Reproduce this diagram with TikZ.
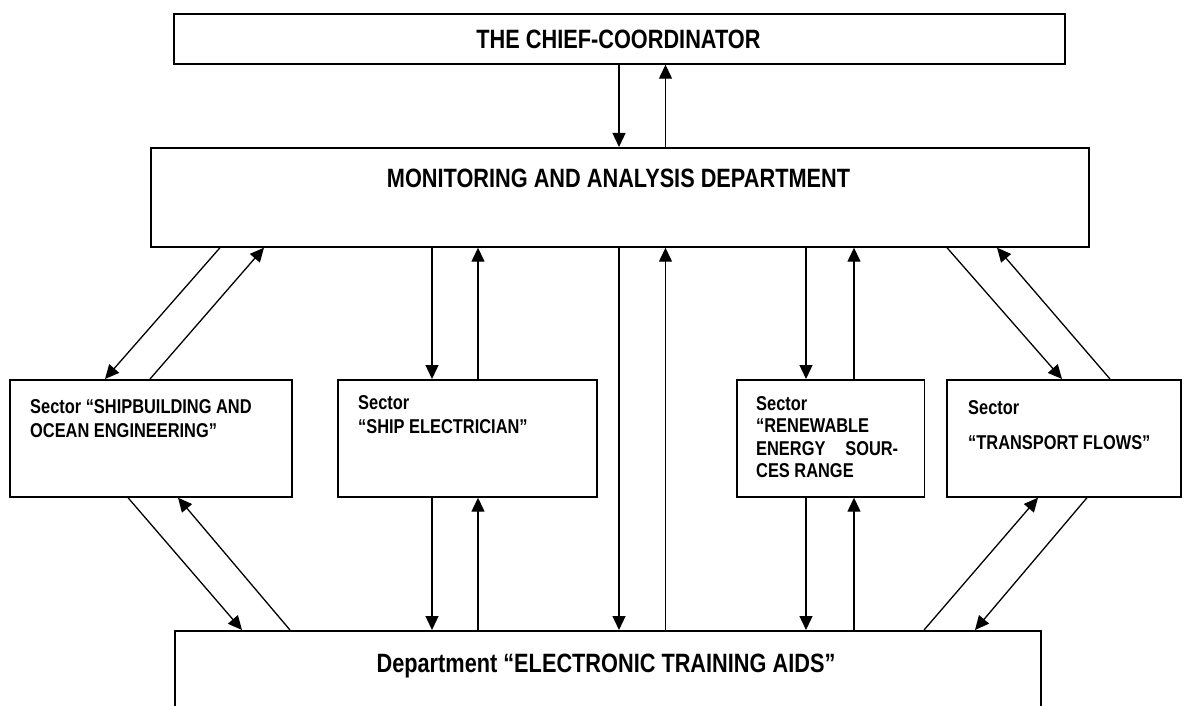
\documentclass[tikz,border=0pt]{standalone}
\usepackage{fontspec}
\setmainfont{Liberation Sans}[FakeStretch=0.82]
\usetikzlibrary{arrows.meta}
\tikzset{
  box/.style={draw, line width=1.7pt, inner sep=0pt, anchor=north west},
  arr/.style={line width=1.3pt, -{Triangle[length=14pt,width=13pt]}},
  title/.style={font=\bfseries\fontsize{26.5}{30}\selectfont, inner sep=0pt, anchor=base},
  stxt/.style={font=\bfseries\fontsize{20}{24}\selectfont, inner sep=0pt, anchor=base west}
}
\begin{document}
\begin{tikzpicture}[x=1pt,y=-1pt]
\useasboundingbox (0,0) rectangle (1184,706);
% boxes
\node[box, minimum width=891pt, minimum height=50pt] (chief) at (173,13) {};
\node[box, minimum width=938pt, minimum height=99pt] (mon) at (150,147) {};
\node[box, minimum width=282pt, minimum height=117pt] (s1) at (9,379) {};
\node[box, minimum width=259pt, minimum height=117pt] (s2) at (337,379) {};
\node[box, minimum width=187.5pt, minimum height=117pt] (s3) at (736,379) {};
\node[box, minimum width=234pt, minimum height=117pt] (s4) at (946,379) {};
\node[box, minimum width=866pt, minimum height=100pt] (dep) at (174,630) {};
% texts
\node[title] (tchief) at (618.5,49) {THE CHIEF-COORDINATOR};
\node[title] (tmon) at (618.5,187) {MONITORING AND ANALYSIS DEPARTMENT};
\node[title] (tdep) at (606,672) {Department “ELECTRONIC TRAINING AIDS”};
\node[stxt] (t1a) at (30,413) {Sector “SHIPBUILDING AND};
\node[stxt] (t1b) at (30,437) {OCEAN ENGINEERING”};
\node[stxt] (t2a) at (358,409) {Sector};
\node[stxt] (t2b) at (358,433) {“SHIP ELECTRICIAN”};
\node[stxt] (t3a) at (756,410) {Sector};
\node[stxt] (t3b) at (756,432) {“RENEWABLE};
\node[stxt] (t3c) at (756,455) {\makebox[142pt][l]{ENERGY\hfill SOUR-}};
\node[stxt] (t3d) at (756,477) {CES RANGE};
\node[stxt] (t4a) at (968,414) {Sector};
\node[stxt] (t4b) at (968,449) {“TRANSPORT FLOWS”};
% chief <-> monitoring
\draw[arr] (619,0 |- chief.south) -- (619,0 |- mon.north);
\draw[arr] (665.5,0 |- mon.north) -- (665.5,0 |- chief.south);
% monitoring <-> sectors
\draw[arr] (220,0 |- mon.south) -- (105,0 |- s1.north);
\draw[arr] (150,0 |- s1.north) -- (264,0 |- mon.south);
\draw[arr] (432,0 |- mon.south) -- (432,0 |- s2.north);
\draw[arr] (478,0 |- s2.north) -- (478,0 |- mon.south);
\draw[arr] (806,0 |- mon.south) -- (806,0 |- s3.north);
\draw[arr] (854,0 |- s3.north) -- (854,0 |- mon.south);
\draw[arr] (947,0 |- mon.south) -- (1062,0 |- s4.north);
\draw[arr] (1110,0 |- s4.north) -- (997,0 |- mon.south);
% monitoring <-> department
\draw[arr] (619,0 |- mon.south) -- (619,0 |- dep.north);
\draw[arr] (665.5,0 |- dep.north) -- (665.5,0 |- mon.south);
% sectors <-> department
\draw[arr] (128,0 |- s1.south) -- (242,0 |- dep.north);
\draw[arr] (290,0 |- dep.north) -- (178,0 |- s1.south);
\draw[arr] (432,0 |- s2.south) -- (432,0 |- dep.north);
\draw[arr] (478,0 |- dep.north) -- (478,0 |- s2.south);
\draw[arr] (806,0 |- s3.south) -- (806,0 |- dep.north);
\draw[arr] (854,0 |- dep.north) -- (854,0 |- s3.south);
\draw[arr] (924,0 |- dep.north) -- (1038,0 |- s4.south);
\draw[arr] (1087,0 |- s4.south) -- (975,0 |- dep.north);
\end{tikzpicture}
\end{document}
